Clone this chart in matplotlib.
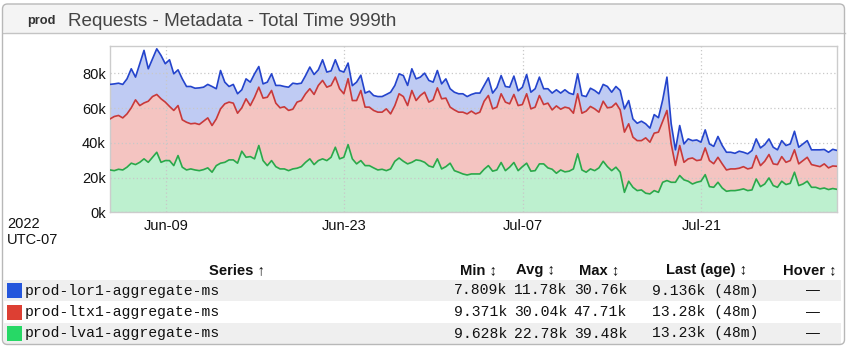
import matplotlib
matplotlib.use("Agg")
import matplotlib.pyplot as plt
import matplotlib.dates as mdates
from matplotlib.patches import FancyBboxPatch, Rectangle
from matplotlib.lines import Line2D
from matplotlib.transforms import IdentityTransform
import numpy as np
import pandas as pd

# ---------------- data (values in thousands of ms) ----------------
start_time = "2022-06-04 15:00"
step = "8h"

lva1 = [24.4, 24.0, 24.8, 24.4, 26.0, 28.3, 27.5, 28.8, 30.8, 28.8,
        31.7, 34.6, 28.8, 29.8, 29.8, 26.9, 32.7, 26.0, 24.4, 25.0,
        24.4, 24.0, 24.6, 25.6, 23.1, 26.9, 28.3, 28.8, 30.2, 30.2,
        28.3, 35.2, 31.7, 32.1, 30.8, 38.5, 29.8, 26.9, 29.8, 26.3,
        25.0, 25.0, 24.0, 25.0, 25.4, 26.3, 28.8, 30.8, 27.5, 29.8,
        30.8, 29.8, 31.7, 37.5, 30.8, 31.7, 39.0, 30.8, 27.9, 29.8,
        26.9, 26.9, 25.6, 24.4, 24.8, 24.0, 25.0, 29.4, 31.3, 29.4,
        27.9, 28.8, 30.2, 29.8, 28.8, 26.7, 26.0, 30.8, 25.0, 26.3,
        28.3, 24.0, 23.1, 22.1, 21.5, 22.1, 22.1, 22.1, 24.8, 26.9,
        23.7, 24.4, 28.7, 24.0, 26.0, 28.7, 24.0, 26.3, 28.3, 23.7,
        24.0, 27.9, 27.9, 25.6, 24.8, 22.5, 24.4, 23.3, 23.7, 25.0,
        33.7, 24.4, 23.1, 25.0, 24.0, 25.6, 29.4, 26.3, 24.0, 26.0,
        23.1, 11.5, 17.9, 14.4, 12.5, 12.9, 11.0, 10.6, 12.5, 11.5,
        17.3, 18.3, 17.3, 17.3, 21.2, 18.7, 17.9, 16.3, 17.3, 17.9,
        21.7, 14.8, 14.4, 17.3, 14.0, 12.1, 12.5, 12.5, 12.9, 13.5,
        12.5, 12.9, 19.2, 14.8, 16.3, 19.8, 15.4, 14.4, 17.9, 16.0,
        16.7, 23.1, 15.4, 16.3, 17.9, 14.4, 14.4, 13.5, 14.0, 13.1,
        13.7, 13.23]

ltx1 = [29.4, 31.2, 31.0, 30.0, 30.7, 31.9, 37.3, 32.7, 32.2, 35.2,
        35.0, 33.3, 36.6, 33.7, 31.2, 31.8, 28.8, 27.3, 27.5, 26.0,
        26.9, 26.6, 27.9, 28.8, 26.9, 26.9, 31.3, 33.7, 33.3, 32.7,
        28.8, 25.0, 33.7, 29.4, 35.5, 33.6, 36.0, 39.4, 40.4, 36.6,
        35.2, 35.8, 34.7, 34.4, 38.1, 38.1, 39.5, 40.4, 40.4, 43.3,
        45.2, 42.3, 41.4, 40.4, 40.4, 36.6, 38.0, 33.6, 36.5, 40.4,
        33.7, 33.7, 33.1, 33.3, 32.9, 35.6, 31.7, 32.1, 37.0, 37.3,
        33.6, 41.4, 34.2, 37.5, 40.4, 36.8, 38.8, 40.9, 40.4, 39.5,
        32.3, 35.0, 34.6, 35.6, 35.2, 36.2, 34.6, 35.6, 39.2, 40.4,
        35.9, 36.2, 39.6, 39.5, 36.5, 39.2, 37.5, 35.8, 40.0, 35.9,
        36.6, 39.4, 34.2, 37.3, 34.2, 38.8, 35.0, 37.3, 36.3, 32.1,
        34.6, 32.7, 35.2, 36.0, 35.6, 32.1, 34.6, 33.9, 36.6, 36.9,
        35.9, 34.7, 33.1, 28.9, 28.8, 28.4, 31.9, 29.8, 33.1, 34.7,
        35.2, 40.4, 22.1, 9.7, 17.3, 10.1, 12.9, 15.0, 12.5, 12.3,
        15.4, 15.0, 13.6, 14.4, 13.9, 12.3, 12.5, 12.5, 12.5, 12.8,
        12.5, 12.7, 13.5, 12.1, 13.1, 13.5, 12.5, 13.1, 14.2, 12.8,
        13.1, 12.9, 12.5, 13.5, 13.8, 13.1, 12.5, 12.8, 13.9, 12.5,
        13.0, 13.28]

lor1 = [19.9, 18.8, 18.6, 19.3, 20.2, 22.5, 13.1, 24.1, 30.3, 18.7,
        21.8, 26.3, 25.0, 22.1, 26.9, 21.1, 20.6, 23.6, 20.6, 21.5,
        20.2, 21.1, 19.6, 19.3, 22.5, 17.4, 22.1, 12.5, 9.0, 10.8,
        11.2, 10.4, 11.5, 13.5, 13.5, 11.9, 8.2, 8.7, 9.6, 10.2,
        12.9, 11.7, 13.4, 15.0, 10.5, 10.0, 10.5, 12.5, 11.5, 9.0,
        11.9, 8.7, 8.4, 10.0, 10.5, 12.5, 9.0, 8.6, 10.6, 8.8,
        8.1, 9.2, 8.6, 9.0, 9.0, 8.3, 12.5, 11.6, 11.5, 12.1,
        11.6, 12.5, 12.5, 10.6, 11.0, 12.5, 10.2, 10.0, 8.6, 11.1,
        10.6, 10.2, 10.6, 10.6, 10.0, 9.6, 12.0, 11.0, 9.1, 10.2,
        9.1, 11.3, 10.5, 9.0, 9.6, 10.6, 8.5, 10.0, 11.1, 9.6,
        10.6, 10.6, 9.1, 8.3, 9.7, 9.3, 9.3, 10.0, 8.7, 10.8,
        11.5, 10.2, 8.4, 10.5, 10.6, 10.6, 9.7, 12.3, 8.6, 9.6,
        11.2, 13.4, 13.4, 10.5, 10.0, 11.2, 8.1, 8.1, 10.7, 8.3,
        12.3, 19.2, 11.6, 9.0, 11.5, 10.6, 11.5, 10.0, 11.9, 10.2,
        10.4, 9.6, 10.0, 12.0, 10.6, 10.2, 9.6, 9.0, 9.8, 8.3,
        8.7, 10.0, 9.6, 10.2, 9.6, 9.0, 9.6, 8.5, 9.2, 9.7,
        9.6, 10.7, 9.6, 9.6, 9.6, 8.5, 9.1, 9.7, 8.3, 9.0,
        9.6, 9.136]

y_ticks = [0, 20, 40, 60, 80]
y_tick_labels = ["0k", "20k", "40k", "60k", "80k"]
x_ticks = ["2022-06-09", "2022-06-23", "2022-07-07", "2022-07-21"]
x_tick_labels = ["Jun-09", "Jun-23", "Jul-07", "Jul-21"]

series_names = ["prod-lor1-aggregate-ms", "prod-ltx1-aggregate-ms", "prod-lva1-aggregate-ms"]
stat_min = ["7.809k", "9.371k", "9.628k"]
stat_avg = ["11.78k", "30.04k", "22.78k"]
stat_max = ["30.76k", "47.71k", "39.48k"]
stat_last = ["9.136k (48m)", "13.28k (48m)", "13.23k (48m)"]
stat_hover = ["\u2014", "\u2014", "\u2014"]
header_labels = ["Series \u2191", "Min \u2195", "Avg \u2195", "Max \u2195", "Last (age) \u2195", "Hover \u2195"]

# ---------------- style ----------------
line_colors = ["#2444cc", "#c8393a", "#2aa84a"]     # lor1, ltx1, lva1
fill_colors = ["#bfcbf3", "#f4c4c1", "#bdf0cf"]
swatch_colors = ["#2456dc", "#dd3f33", "#27d866"]
SANS = ["Liberation Sans", "DejaVu Sans"]
MONO = ["Liberation Mono", "DejaVu Sans Mono"]

W, H = 855, 351
fig = plt.figure(figsize=(W / 100, H / 100), dpi=100)
ident = IdentityTransform()

def fx(x):
    return x / W

def fy(y):
    return 1 - y / H

# panel background and title bar
panel_bg = FancyBboxPatch((2.5, H - 344.5), 842, 340.5, boxstyle="round,pad=0,rounding_size=5",
                          transform=ident, facecolor="white", edgecolor="none", zorder=0)
fig.add_artist(panel_bg)
title_bg = FancyBboxPatch((2.5, H - 33), 842, 29, boxstyle="round,pad=0,rounding_size=5",
                          transform=ident, facecolor="#f4f4f4", edgecolor="none", zorder=0.1)
fig.add_artist(title_bg)
fig.add_artist(Line2D([2.5, 844.5], [H - 33, H - 33], transform=ident, color="#c4c4c4", lw=1.0, zorder=0.2))

# table row backgrounds
for ytop in (280, 323):
    fig.add_artist(Rectangle((4, H - ytop - 21), 837, 21, transform=ident,
                             facecolor="#efefef", edgecolor="none", zorder=0.2))

panel_border = FancyBboxPatch((2.5, H - 344.5), 842, 340.5, boxstyle="round,pad=0,rounding_size=5",
                              transform=ident, facecolor="none", edgecolor="#b8b8b8", lw=1.0, zorder=5)
fig.add_artist(panel_border)

# title
fig.text(fx(27), fy(21), "prod", fontsize=9.2, fontweight="bold", color="#333333",
         family=SANS, va="center", ha="left")
fig.text(fx(68), fy(21), "Requests - Metadata - Total Time 999th", fontsize=13.6,
         color="#444444", family=SANS, va="center", ha="left")

# ---------------- chart ----------------
times = pd.date_range(start_time, periods=len(lva1), freq=step)
ax = fig.add_axes([fx(110), fy(212.3), (837 - 110) / W, (212.3 - 45.7) / H])
ax.set_facecolor("white")

stack_vals = [np.array(lva1), np.array(ltx1), np.array(lor1)]
ax.stackplot(times, *stack_vals,
             colors=[fill_colors[2], fill_colors[1], fill_colors[0]], linewidth=0, zorder=1)
cum = np.cumsum(np.vstack(stack_vals), axis=0)
ax.plot(times, cum[0], color=line_colors[2], lw=1.2, zorder=3)
ax.plot(times, cum[1], color=line_colors[1], lw=1.2, zorder=3)
ax.plot(times, cum[2], color=line_colors[0], lw=1.2, zorder=3)

ax.set_xlim(times[0], times[-1])
ax.set_ylim(0, 96)
ax.set_yticks(y_ticks)
ax.set_yticklabels(y_tick_labels)
ax.set_xticks(pd.to_datetime(x_ticks))
ax.set_xticklabels(x_tick_labels)
for lab in ax.get_xticklabels() + ax.get_yticklabels():
    lab.set_family(SANS)
    lab.set_fontsize(10.5)
    lab.set_color("#111111")
ax.tick_params(axis="both", length=0)
ax.tick_params(axis="y", pad=3)
ax.tick_params(axis="x", pad=5)
ax.set_axisbelow(False)
ax.grid(True, color="#c8c8c8", linestyle=(0, (1, 2)), lw=0.9, zorder=2)
for s in ax.spines.values():
    s.set_color("#cccccc")
    s.set_linewidth(1.0)

fig.text(fx(7), fy(223.5), "2022", fontsize=10.5, family=SANS, color="#111111", va="center", ha="left")
fig.text(fx(7), fy(239.5), "UTC-07", fontsize=10.5, family=SANS, color="#111111", va="center", ha="left")

# ---------------- legend table ----------------
header_y = 270
header_x = [237, 478, 535, 599, 706, 810]
for lab, x in zip(header_labels, header_x):
    fig.text(fx(x), fy(header_y), lab, fontsize=10.6, fontweight="bold", family=SANS,
             color="#111111", ha="center", va="center")

row_y = [290.5, 312, 333.5]
for k in range(3):
    y = row_y[k]
    fig.add_artist(Rectangle((7, H - y - 7.5), 15, 15, transform=ident,
                             facecolor=swatch_colors[k], edgecolor="none", zorder=1))
    fig.text(fx(25), fy(y), series_names[k], fontsize=10.6, family=MONO, color="#111111",
             ha="left", va="center")
    fig.text(fx(507), fy(y), stat_min[k], fontsize=10.6, family=MONO, color="#111111",
             ha="right", va="center")
    fig.text(fx(567), fy(y), stat_avg[k], fontsize=10.6, family=MONO, color="#111111",
             ha="right", va="center")
    fig.text(fx(627), fy(y), stat_max[k], fontsize=10.6, family=MONO, color="#111111",
             ha="right", va="center")
    fig.text(fx(652), fy(y), stat_last[k], fontsize=10.6, family=MONO, color="#111111",
             ha="left", va="center")
    fig.text(fx(813), fy(y), stat_hover[k], fontsize=10, family=SANS, color="#111111",
             ha="center", va="center")

fig.savefig("out.png", dpi=100)
